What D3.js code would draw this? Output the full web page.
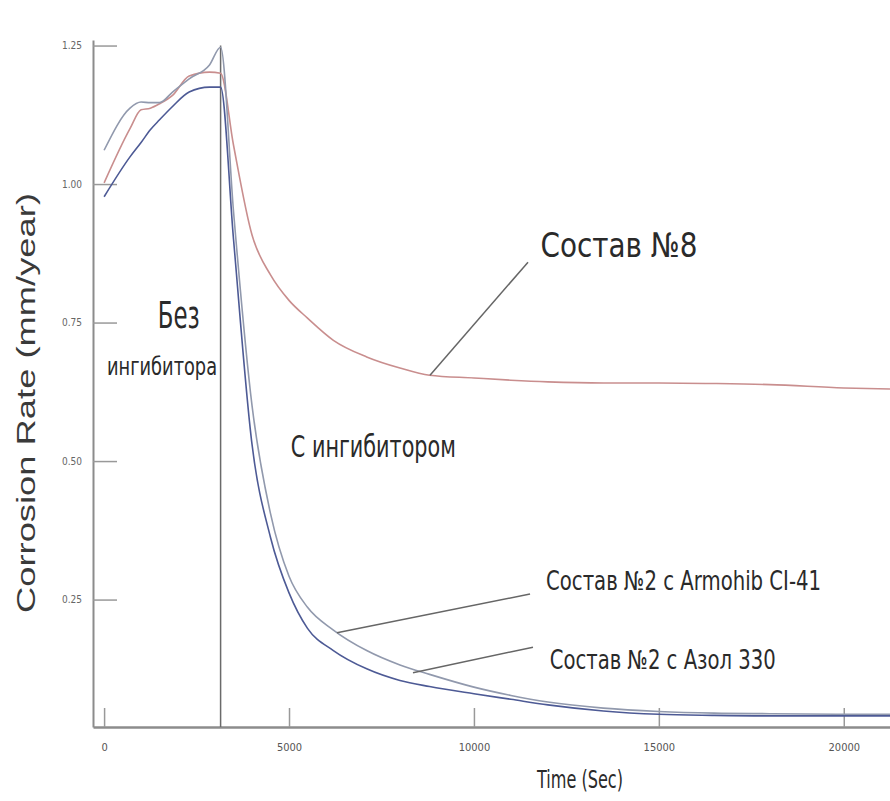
<!DOCTYPE html>
<html><head><meta charset="utf-8">
<script src="https://cdn.jsdelivr.net/npm/d3@7"></script>
<style>html,body{margin:0;padding:0;background:#fff;}svg{display:block;}</style>
</head><body>
<svg id="chart" width="890" height="801"></svg>
<script>
// ---- data ----
const times = [0, 700, 1000, 1250, 1500, 1850, 2300, 2850, 3150, 3500, 4000, 4500, 5000, 5500, 6200, 7100, 8000, 8800, 10000, 11000, 12000, 13500, 15000, 16500, 18000, 20000, 21250];
const sostav8 = [1.002, 1.10, 1.134, 1.137, 1.145, 1.160, 1.195, 1.202, 1.200, 1.07, 0.908, 0.836, 0.790, 0.758, 0.718, 0.688, 0.668, 0.655, 0.650, 0.646, 0.643, 0.641, 0.641, 0.640, 0.638, 0.632, 0.630];
const armohib = [1.061, 1.137, 1.148, 1.147, 1.147, 1.166, 1.190, 1.215, 1.247, 0.950, 0.600, 0.405, 0.292, 0.236, 0.195, 0.158, 0.132, 0.115, 0.092, 0.077, 0.065, 0.054, 0.048, 0.045, 0.044, 0.043, 0.043];
const azol = [0.977, 1.049, 1.075, 1.098, 1.116, 1.140, 1.166, 1.175, 1.175, 0.900, 0.530, 0.362, 0.262, 0.198, 0.158, 0.125, 0.104, 0.093, 0.080, 0.070, 0.060, 0.049, 0.043, 0.041, 0.040, 0.040, 0.040];
const seriesNames = ["Состав №8", "Состав №2 с Armohib CI-41", "Состав №2 с Азол 330"];
const xTicks = [0, 5000, 10000, 15000, 20000];
const yTicks = [1.25, 1.00, 0.75, 0.50, 0.25];
const inhibitorTime = 3150;
const yTitle = "Corrosion Rate (mm/year)";
const xTitle = "Time (Sec)";

// ---- layout ----
const svg = d3.select("#chart");
const x = d3.scaleLinear().domain([-300, 21250]).range([93, 890]);
const y = d3.scaleLinear().domain([0.02, 1.26]).range([727, 40]);
const condensed = "'Liberation Sans Narrow','DejaVu Sans Condensed','Liberation Sans',sans-serif";

const colors = ["#c98e8e", "#9199ad", "#4d5a95"];
const data = [sostav8, armohib, azol];

// axes
const yAxis = d3.axisLeft(y).tickValues(yTicks).tickSizeInner(-24).tickSizeOuter(0).tickFormat(d3.format(".2f")).tickPadding(11);
const gy = svg.append("g").attr("transform", "translate(93,0)").call(yAxis);
gy.select(".domain").attr("stroke", "#8c8c8c").attr("stroke-width", 2);
gy.selectAll(".tick line").attr("stroke", "#999").attr("stroke-width", 1.5);
gy.selectAll(".tick text").attr("fill", "#666").attr("font-family", condensed).attr("font-size", 10);

const xAxis = d3.axisBottom(x).tickValues(xTicks).tickSizeInner(-19).tickSizeOuter(0).tickFormat(d3.format("d")).tickPadding(16);
const gx = svg.append("g").attr("transform", "translate(0,727)").call(xAxis);
gx.select(".domain").attr("stroke", "#8c8c8c").attr("stroke-width", 2.5);
gx.selectAll(".tick line").attr("stroke", "#999").attr("stroke-width", 1.5);
gx.selectAll(".tick text").attr("fill", "#555").attr("font-family", condensed).attr("font-size", 11);

// inhibitor divider
svg.append("line")
  .attr("x1", x(inhibitorTime)).attr("x2", x(inhibitorTime))
  .attr("y1", y(1.25)).attr("y2", y(0.02))
  .attr("stroke", "#6a6a6a").attr("stroke-width", 1.5);

// lines
const line = d3.line().x((d, i) => x(times[i])).y(d => y(d)).curve(d3.curveMonotoneX);
data.forEach((vals, k) => {
  svg.append("path").datum(vals).attr("d", line)
    .attr("fill", "none").attr("stroke", colors[k]).attr("stroke-width", 1.6);
});

// annotation pointers (data coords)
const pointers = [
  {from: [8812, 0.655], to: [11462, 0.859]},
  {from: [6297, 0.190], to: [11517, 0.260]},
  {from: [8352, 0.118], to: [11597, 0.164]}
];
pointers.forEach(p => {
  svg.append("line")
    .attr("x1", x(p.from[0])).attr("y1", y(p.from[1]))
    .attr("x2", x(p.to[0])).attr("y2", y(p.to[1]))
    .attr("stroke", "#666").attr("stroke-width", 1.5);
});

// text labels: [text, time, value(baseline), fontSize, width]
const labels = [
  [seriesNames[0], 11800, 0.868, 34, 157],
  [seriesNames[1], 11950, 0.268, 26, 275],
  [seriesNames[2], 12050, 0.124, 26, 226],
  ["Без", 1450, 0.74, 38, 42],
  ["ингибитора", 80, 0.655, 24, 110],
  ["С ингибитором", 5050, 0.507, 30, 165]
];
labels.forEach(l => {
  svg.append("text").text(l[0])
    .attr("x", x(l[1])).attr("y", y(l[2]))
    .attr("font-family", condensed).attr("font-size", l[3])
    .attr("fill", "#2a2a2a")
    .attr("textLength", l[4]).attr("lengthAdjust", "spacingAndGlyphs");
});

// axis titles
svg.append("text").text(yTitle)
  .attr("transform", "translate(35,403) rotate(-90)")
  .attr("text-anchor", "middle")
  .attr("font-family", "'Liberation Sans',Arial,sans-serif").attr("font-size", 26)
  .attr("fill", "#3a3a3a")
  .attr("textLength", 420).attr("lengthAdjust", "spacingAndGlyphs");

svg.append("text").text(xTitle)
  .attr("x", 580).attr("y", 788)
  .attr("text-anchor", "middle")
  .attr("font-family", condensed).attr("font-size", 24)
  .attr("fill", "#2a2a2a")
  .attr("textLength", 86).attr("lengthAdjust", "spacingAndGlyphs");
</script>
</body></html>
